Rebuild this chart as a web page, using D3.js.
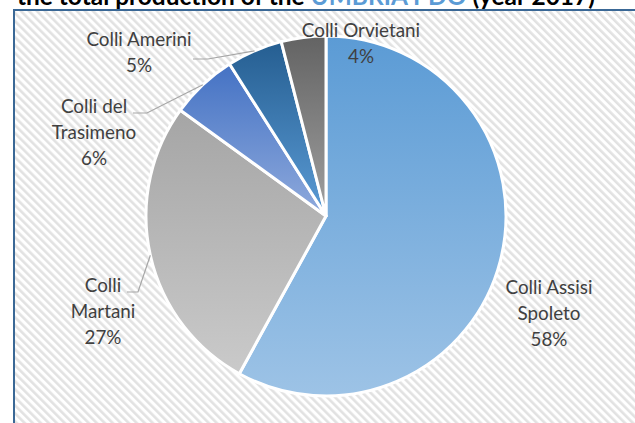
<!DOCTYPE html>
<html>
<head>
<meta charset="utf-8">
<script src="https://cdn.jsdelivr.net/npm/d3@7"></script>
<style>
  html, body { margin: 0; padding: 0; background: #ffffff; }
  svg { display: block; }
</style>
</head>
<body>
<svg id="chart" width="635" height="423"></svg>
<script>
// ---- data ----
const categories = ["Colli Assisi Spoleto", "Colli Martani", "Colli del Trasimeno", "Colli Amerini", "Colli Orvietani"];
const values = [58, 27, 6, 5, 4];
const labelLines = [["Colli Assisi", "Spoleto"], ["Colli", "Martani"], ["Colli del", "Trasimeno"], ["Colli Amerini"], ["Colli Orvietani"]];
const titleParts = ["the total production of the ", "UMBRIA PDO", " (year 2017)"];

// ---- style / layout ----
const colorsTop = ["#5B9BD5", "#A5A5A5", "#4472C4", "#255E91", "#636363"];
const colorsBottom = ["#9DC3E6", "#CACACA", "#8FAADC", "#5B9BD5", "#A0A0A0"];
const W = 635, H = 423;
const cx = 326, cy = 216, R = 180;
const labelFont = "Lato, 'Open Sans', sans-serif";
// label anchor (center x, first baseline y) and leader start points
const labelLayout = [
  { x: 549, y: 294, leader: null },
  { x: 103, y: 292, leader: [[127, 292], [138, 292]] },
  { x: 94,  y: 113, leader: [[133, 113], [147, 113]] },
  { x: 139, y: 46,  leader: [[193, 59], [208, 59]] },
  { x: 361, y: 37,  leader: null }
];
const lineGap = 26;

const svg = d3.select("#chart");
const defs = svg.append("defs");

// striped background pattern
const pat = defs.append("pattern")
  .attr("id", "stripes")
  .attr("patternUnits", "userSpaceOnUse")
  .attr("width", 5.66).attr("height", 5.66)
  .attr("patternTransform", "rotate(-45)");
pat.append("rect").attr("width", 5.66).attr("height", 5.66).attr("fill", "#ffffff");
pat.append("rect").attr("width", 2.6).attr("height", 5.66).attr("fill", "#e2e2e2");

// gradients
categories.forEach((c, i) => {
  const g = defs.append("linearGradient")
    .attr("id", "grad" + i)
    .attr("x1", 0).attr("y1", 0).attr("x2", 0).attr("y2", 1);
  g.append("stop").attr("offset", "0%").attr("stop-color", colorsTop[i]);
  g.append("stop").attr("offset", "100%").attr("stop-color", colorsBottom[i]);
});

// chart area frame
svg.append("rect")
  .attr("x", 14).attr("y", 10)
  .attr("width", W + 10).attr("height", H + 10)
  .attr("fill", "url(#stripes)")
  .attr("stroke", "#3A6896").attr("stroke-width", 2);

// title (partially cut off at top)
const title = svg.append("text")
  .attr("x", 17).attr("y", 5)
  .attr("font-family", "Lato, 'Open Sans', sans-serif")
  .attr("font-weight", "bold")
  .attr("font-size", 24);
titleParts.forEach((t, i) => {
  title.append("tspan").text(t).attr("fill", i === 1 ? "#5B9BD5" : "#000000").attr("xml:space", "preserve");
});
{
  const len = title.node().getComputedTextLength();
  const fs = 24 * 578 / len;
  title.attr("font-size", fs);
}

// pie
const pie = d3.pie().sort(null).value(d => d).startAngle(0).endAngle(2 * Math.PI);
const arcs = pie(values);
const arc = d3.arc().innerRadius(0).outerRadius(R);

const g = svg.append("g").attr("transform", `translate(${cx},${cy})`);
g.selectAll("path.slice")
  .data(arcs)
  .join("path")
  .attr("class", "slice")
  .attr("d", arc)
  .attr("fill", (d, i) => `url(#grad${i})`)
  .attr("stroke", "#ffffff")
  .attr("stroke-width", 3)
  .attr("stroke-linejoin", "round");

// label font sizing: fit "Colli Assisi" to ~87px like the reference
let labelSize = 18;
{
  const t = svg.append("text").attr("font-family", labelFont).attr("font-size", 20).text("Colli Assisi");
  const w = t.node().getComputedTextLength();
  t.remove();
  labelSize = 20 * 87 / w;
}

// leader lines
const pctFmt = d => Math.round(d) + "%";
const total = d3.sum(values);
arcs.forEach((a, i) => {
  const L = labelLayout[i];
  if (!L.leader) return;
  const mid = (a.startAngle + a.endAngle) / 2;
  const end = [cx + R * Math.sin(mid), cy - R * Math.cos(mid)];
  const pts = L.leader.concat([end]);
  svg.append("path")
    .attr("d", d3.line()(pts))
    .attr("fill", "none")
    .attr("stroke", "#A6A6A6")
    .attr("stroke-width", 1.2);
});

// labels
arcs.forEach((a, i) => {
  const L = labelLayout[i];
  const lines = labelLines[i].concat([pctFmt(values[i] / total * 100)]);
  const t = svg.append("text")
    .attr("font-family", labelFont)
    .attr("font-size", labelSize)
    .attr("fill", "#404040")
    .attr("text-anchor", "middle");
  lines.forEach((ln, k) => {
    t.append("tspan").attr("x", L.x).attr("y", L.y + k * lineGap).text(ln);
  });
});
</script>
</body>
</html>
